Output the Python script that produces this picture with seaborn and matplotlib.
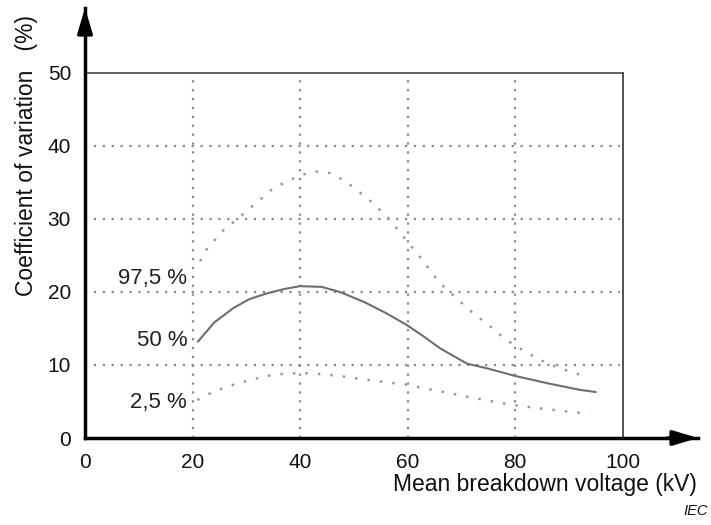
import numpy as np
import pandas as pd
import seaborn as sns
import matplotlib.pyplot as plt

# curves (kV, %)
x_975 = [21.4, 22.6, 25.5, 28.8, 32.0, 35.0, 38.0, 40.0, 43.0, 45.5, 48.6, 51.0, 53.5, 56.7, 59.5, 62.3, 66.0, 69.0, 72.2, 75.5, 78.4, 81.5, 84.6, 88.5, 93.2]
y_975 = [24.2, 25.8, 28.3, 30.3, 32.3, 34.2, 35.3, 36.0, 36.5, 36.3, 35.1, 33.7, 32.2, 29.9, 27.3, 24.8, 21.2, 19.2, 17.1, 15.2, 13.4, 12.0, 10.7, 9.5, 8.4]

x_50 = [21.0, 24.0, 27.6, 30.5, 33.8, 37.0, 40.0, 44.0, 47.4, 52.0, 56.0, 59.8, 63.0, 66.0, 71.0, 75.0, 80.0, 86.0, 92.0, 95.0]
y_50 = [13.2, 15.8, 17.8, 19.0, 19.8, 20.4, 20.8, 20.7, 20.0, 18.6, 17.1, 15.5, 13.9, 12.3, 10.2, 9.5, 8.5, 7.5, 6.6, 6.3]

x_25 = [20.9, 24.0, 27.6, 30.5, 33.8, 37.0, 40.0, 43.0, 47.4, 53.0, 59.8, 66.0, 72.2, 79.6, 86.5, 93.9]
y_25 = [5.2, 6.4, 7.3, 7.9, 8.5, 8.8, 8.9, 8.8, 8.5, 7.9, 7.3, 6.4, 5.5, 4.5, 3.9, 3.3]

curve_labels = ["97,5 %", "50 %", "2,5 %"]
label_y = [21.9, 13.4, 4.8]

x_ticks = [0, 20, 40, 60, 80, 100]
y_ticks = [0, 10, 20, 30, 40, 50]

sns.set_style("white")
plt.rcParams['font.family'] = ['Liberation Sans', 'DejaVu Sans']

fig = plt.figure(figsize=(7.11, 5.25), dpi=100)
ax = fig.add_axes([85 / 711, 87 / 525, 613 / 711, 430 / 525])
ax.set_xlim(0, 114)
ax.set_ylim(0, 58.9)

grey_dot = dict(color="#8a8a8a", linewidth=1.6, linestyle=(0, (1, 3)))
for gx in [20, 40, 60, 80]:
    ax.plot([gx, gx], [0, 49.3], **grey_dot, zorder=1)
for gy in [10, 20, 30, 40]:
    ax.plot([0, 99.5], [gy, gy], **grey_dot, zorder=1)
ax.plot([0, 100], [50, 50], color="#555555", linewidth=1.3, zorder=2)
ax.plot([100, 100], [0, 50], color="#444444", linewidth=1.3, zorder=2)

df_975 = pd.DataFrame({"x": x_975, "y": y_975})
df_50 = pd.DataFrame({"x": x_50, "y": y_50})
df_25 = pd.DataFrame({"x": x_25, "y": y_25})

sns.lineplot(data=df_975, x="x", y="y", ax=ax, color="#999999", linewidth=1.8,
             linestyle=(0, (1, 4)), sort=False, estimator=None)
sns.lineplot(data=df_50, x="x", y="y", ax=ax, color="#6e6e6e", linewidth=1.5,
             sort=False, estimator=None)
sns.lineplot(data=df_25, x="x", y="y", ax=ax, color="#999999", linewidth=1.8,
             linestyle=(0, (1, 4)), sort=False, estimator=None)

for lab, ly in zip(curve_labels, label_y):
    ax.text(19.0, ly, lab, ha="right", va="center", fontsize=16, color="#222222")

for side in ["top", "right"]:
    ax.spines[side].set_visible(False)
for side in ["left", "bottom"]:
    ax.spines[side].set_linewidth(2.5)
    ax.spines[side].set_color("black")

# arrow heads
ax.annotate("", xy=(1, 0), xytext=(0.95, 0), xycoords="axes fraction",
            arrowprops=dict(arrowstyle="-|>,head_length=1.5,head_width=0.45",
                            color="black", lw=2.5, shrinkA=0, shrinkB=0))
ax.annotate("", xy=(0, 1), xytext=(0, 0.95), xycoords="axes fraction",
            arrowprops=dict(arrowstyle="-|>,head_length=1.5,head_width=0.45",
                            color="black", lw=2.5, shrinkA=0, shrinkB=0))

ax.set_xticks(x_ticks)
ax.set_yticks(y_ticks)
ax.tick_params(axis="both", length=0, labelsize=15, labelcolor="#111111")
ax.tick_params(axis="x", pad=11)
ax.tick_params(axis="y", pad=10)
ax.set_xlabel("")
ax.set_ylabel("")

fig.text(697 / 711, 1 - 485 / 525, "Mean breakdown voltage (kV)", ha="right",
         va="center", fontsize=16.5, color="#111111")
fig.text(27 / 711, 1 - 155 / 525, "Coefficient of variation   (%)", ha="center",
         va="center", rotation=90, fontsize=16.5, color="#111111")
fig.text(708 / 711, 1 - 511 / 525, "IEC", ha="right", va="center",
         fontsize=10.5, style="italic", color="#111111")

fig.savefig("out.png", dpi=100)
